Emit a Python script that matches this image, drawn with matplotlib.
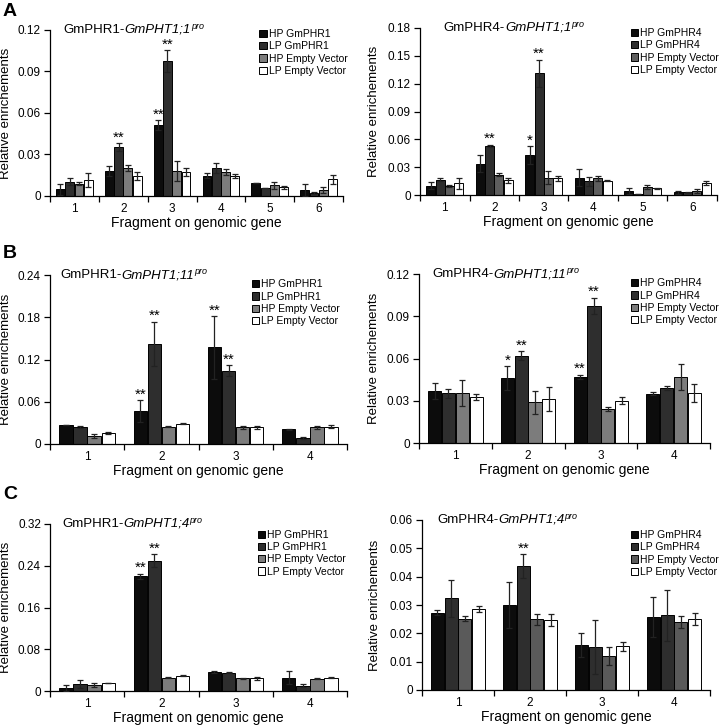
import numpy as np
import matplotlib.pyplot as plt
from matplotlib.ticker import FuncFormatter

plt.rcParams['font.family'] = 'Liberation Sans'

# order of bars inside every group: HP, LP, HP Empty Vector, LP Empty Vector

# A left: GmPHR1 on GmPHT1;1 promoter
a1_vals = [[0.0050, 0.0180, 0.0512, 0.0146, 0.0091, 0.0041],
           [0.0103, 0.0352, 0.0975, 0.0200, 0.0058, 0.0022],
           [0.0089, 0.0204, 0.0180, 0.0175, 0.0077, 0.0041],
           [0.0115, 0.0144, 0.0175, 0.0142, 0.0062, 0.0120]]
a1_errs = [[0.0040, 0.0038, 0.0036, 0.0017, 0.0000, 0.0043],
           [0.0024, 0.0029, 0.0080, 0.0036, 0.0000, 0.0010],
           [0.0010, 0.0022, 0.0072, 0.0020, 0.0026, 0.0021],
           [0.0053, 0.0030, 0.0027, 0.0015, 0.0010, 0.0030]]
a1_stars = [(2, 1, '**'), (3, 0, '**'), (3, 1, '**')]

# A right: GmPHR4 on GmPHT1;1 promoter
a2_vals = [[0.0100, 0.0336, 0.0430, 0.0186, 0.0043, 0.0030],
           [0.0164, 0.0532, 0.1310, 0.0146, 0.0014, 0.0030],
           [0.0096, 0.0218, 0.0186, 0.0179, 0.0089, 0.0046],
           [0.0125, 0.0157, 0.0179, 0.0154, 0.0071, 0.0132]]
a2_errs = [[0.0040, 0.0090, 0.0096, 0.0090, 0.0030, 0.0017],
           [0.0016, 0.0011, 0.0150, 0.0050, 0.0000, 0.0005],
           [0.0011, 0.0014, 0.0070, 0.0028, 0.0022, 0.0022],
           [0.0055, 0.0023, 0.0025, 0.0008, 0.0008, 0.0022]]
a2_stars = [(2, 1, '**'), (3, 0, '*'), (3, 1, '**')]

# B left: GmPHR1 on GmPHT1;11 promoter
b1_vals = [[0.0265, 0.0468, 0.1373, 0.0208],
           [0.0241, 0.1420, 0.1040, 0.0085],
           [0.0113, 0.0246, 0.0236, 0.0236],
           [0.0151, 0.0288, 0.0236, 0.0246]]
b1_errs = [[0.0000, 0.0156, 0.0445, 0.0010],
           [0.0010, 0.0317, 0.0080, 0.0010],
           [0.0033, 0.0006, 0.0020, 0.0020],
           [0.0014, 0.0010, 0.0020, 0.0020]]
b1_stars = [(2, 0, '**'), (2, 1, '**'), (3, 0, '**'), (3, 1, '**')]

# B right: GmPHR4 on GmPHT1;11 promoter
b2_vals = [[0.0367, 0.0463, 0.0468, 0.0350],
           [0.0353, 0.0619, 0.0974, 0.0391],
           [0.0355, 0.0288, 0.0240, 0.0470],
           [0.0326, 0.0312, 0.0300, 0.0355]]
b2_errs = [[0.0058, 0.0084, 0.0017, 0.0010],
           [0.0031, 0.0031, 0.0058, 0.0012],
           [0.0089, 0.0084, 0.0015, 0.0094],
           [0.0022, 0.0084, 0.0025, 0.0065]]
b2_stars = [(2, 0, '*'), (2, 1, '**'), (3, 0, '**'), (3, 1, '**')]

# C left: GmPHR1 on GmPHT1;4 promoter
c1_vals = [[0.0059, 0.2195, 0.0367, 0.0256],
           [0.0138, 0.2500, 0.0348, 0.0105],
           [0.0118, 0.0256, 0.0243, 0.0236],
           [0.0151, 0.0295, 0.0243, 0.0256]]
c1_errs = [[0.0051, 0.0055, 0.0025, 0.0131],
           [0.0072, 0.0127, 0.0007, 0.0033],
           [0.0033, 0.0007, 0.0013, 0.0013],
           [0.0007, 0.0007, 0.0026, 0.0013]]
c1_stars = [(2, 0, '**'), (2, 1, '**')]

# C right: GmPHR4 on GmPHT1;4 promoter
c2_vals = [[0.0272, 0.0300, 0.0158, 0.0259],
           [0.0324, 0.0438, 0.0152, 0.0264],
           [0.0251, 0.0249, 0.0119, 0.0240],
           [0.0286, 0.0246, 0.0154, 0.0251]]
c2_errs = [[0.0009, 0.0081, 0.0042, 0.0071],
           [0.0066, 0.0042, 0.0095, 0.0090],
           [0.0009, 0.0018, 0.0032, 0.0020],
           [0.0012, 0.0021, 0.0017, 0.0020]]
c2_stars = [(2, 1, '**')]

labels_phr1 = ['HP GmPHR1', 'LP GmPHR1', 'HP Empty Vector', 'LP Empty Vector']
labels_phr4 = ['HP GmPHR4', 'LP GmPHR4', 'HP Empty Vector', 'LP Empty Vector']

W, H = 724, 725


def put_title(ax, x, prefix, gene):
    # plain prefix, italic gene name, italic superscript "pro"
    t1 = ax.text(x, 1.0, prefix, transform=ax.transAxes, fontsize=9.5, va='center', ha='left')
    t2 = ax.annotate(gene, xy=(1, 0), xycoords=t1, va='bottom', ha='left',
                     fontsize=9.5, style='italic')
    ax.annotate('pro', xy=(1, 0.42), xycoords=t2, va='bottom', ha='left',
                fontsize=6.5, style='italic')


def draw_panel(ax, vals, errs, stars, labels, prefix, gene, ymax, ystep, ev_grey,
               title_x, leg_pos, ylab_px):
    n = len(vals[0])
    x = np.arange(1, n + 1)
    width = 0.18
    step = 0.19
    colors = ['#0c0c0c', '#2e2e2e', ev_grey, 'white']
    for i in range(4):
        pos = x + (i - 1.5) * step
        ax.bar(pos, vals[i], width, color=colors[i], edgecolor='black', linewidth=0.7,
               label=labels[i], zorder=2)
        ax.errorbar(pos, vals[i], yerr=errs[i], fmt='none', ecolor='#222222',
                    elinewidth=0.9, capsize=2.3, capthick=0.9, zorder=3)
    for g, s, txt in stars:
        xs = g + (s - 1.5) * step
        top = vals[s][g - 1] + errs[s][g - 1]
        ax.annotate(txt, (xs, top), xytext=(0, -1), textcoords='offset points',
                    ha='center', va='bottom', fontsize=11)

    ax.set_xlim(0.5, n + 0.5)
    ax.set_ylim(0, ymax)
    ax.set_yticks(np.arange(0, ymax + ystep / 2, ystep))
    ax.yaxis.set_major_formatter(FuncFormatter(lambda v, p: f'{round(v, 3):g}'))
    ax.set_xticks(x)
    ax.set_xticks(np.arange(0.5, n + 1), minor=True)
    ax.tick_params(axis='x', which='major', length=0, labelsize=8.5, pad=5)
    ax.tick_params(axis='x', which='minor', length=4, width=0.9, direction='out')
    ax.tick_params(axis='y', length=4, width=0.9, labelsize=8.5, pad=2.5, direction='out')
    for side in ['top', 'right']:
        ax.spines[side].set_visible(False)
    for side in ['left', 'bottom']:
        ax.spines[side].set_linewidth(0.9)
    ax.set_xlabel('Fragment on genomic gene', fontsize=10, labelpad=1)
    ax.set_ylabel('Relative enrichements', fontsize=9.5)
    bb = ax.get_position()
    ax.yaxis.set_label_coords((ylab_px / W - bb.x0) / bb.width, 0.5)
    put_title(ax, title_x, prefix, gene)
    ax.legend(loc='upper left', bbox_to_anchor=leg_pos, frameon=False, fontsize=7.5,
              handlelength=0.7, handleheight=0.7, handletextpad=0.2, labelspacing=0.22,
              borderpad=0, borderaxespad=0)


fig = plt.figure(figsize=(7.24, 7.25), dpi=100)

ax_a1 = fig.add_axes([50 / W, 1 - 196 / H, 293 / W, 166 / H])
ax_a2 = fig.add_axes([420 / W, 1 - 195 / H, 297 / W, 167 / H])
ax_b1 = fig.add_axes([50 / W, 1 - 444 / H, 297 / W, 169 / H])
ax_b2 = fig.add_axes([419 / W, 1 - 443 / H, 291 / W, 169 / H])
ax_c1 = fig.add_axes([50 / W, 1 - 691 / H, 297 / W, 167 / H])
ax_c2 = fig.add_axes([422 / W, 1 - 690 / H, 288 / W, 170 / H])

draw_panel(ax_a1, a1_vals, a1_errs, a1_stars, labels_phr1, 'GmPHR1-', 'GmPHT1;1',
           0.12, 0.03, '#7c7c7c', 0.045, (0.715, 1.005), 12)
draw_panel(ax_a2, a2_vals, a2_errs, a2_stars, labels_phr4, 'GmPHR4-', 'GmPHT1;1',
           0.18, 0.03, '#5e5e5e', 0.08, (0.71, 1.0), 380)
draw_panel(ax_b1, b1_vals, b1_errs, b1_stars, labels_phr1, 'GmPHR1-', 'GmPHT1;11',
           0.24, 0.06, '#7c7c7c', 0.035, (0.68, 0.975), 12)
draw_panel(ax_b2, b2_vals, b2_errs, b2_stars, labels_phr4, 'GmPHR4-', 'GmPHT1;11',
           0.12, 0.03, '#7c7c7c', 0.045, (0.728, 0.975), 380)
draw_panel(ax_c1, c1_vals, c1_errs, c1_stars, labels_phr1, 'GmPHR1-', 'GmPHT1;4',
           0.32, 0.08, '#7c7c7c', 0.04, (0.70, 0.965), 12)
draw_panel(ax_c2, c2_vals, c2_errs, c2_stars, labels_phr4, 'GmPHR4-', 'GmPHT1;4',
           0.06, 0.01, '#5a5a5a', 0.052, (0.726, 0.94), 381)

fig.text(3 / W, 1 - 3 / H, 'A', fontsize=14, fontweight='bold', va='top')
fig.text(3 / W, 1 - 245 / H, 'B', fontsize=14, fontweight='bold', va='top')
fig.text(3 / W, 1 - 486 / H, 'C', fontsize=14, fontweight='bold', va='top')

fig.savefig('out.png', dpi=100)
